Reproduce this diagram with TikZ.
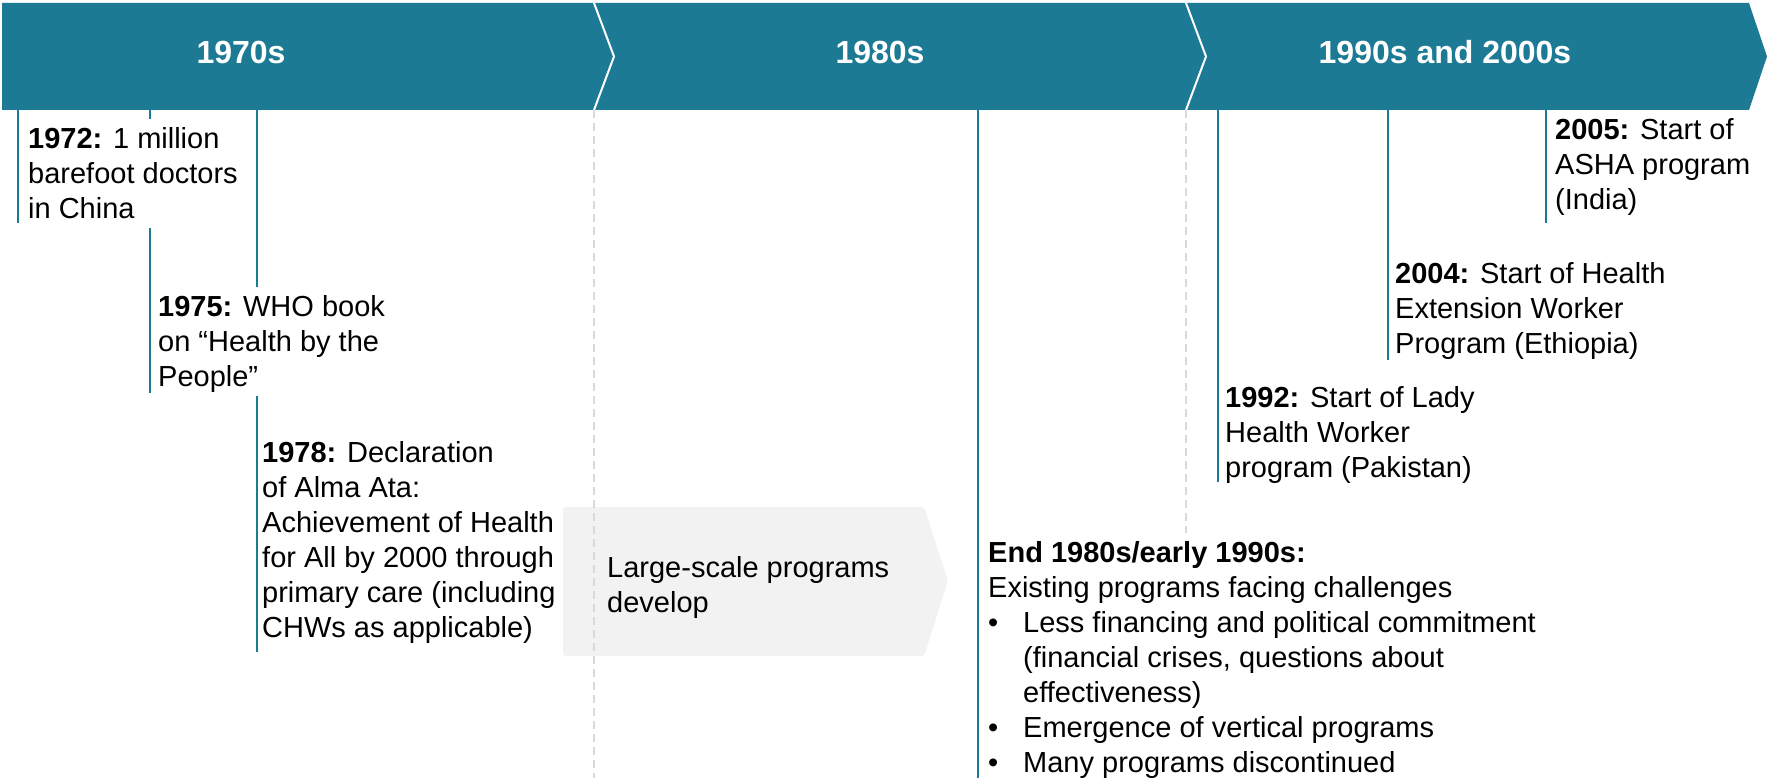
\documentclass[tikz,border=0pt]{standalone}
\usepackage{fontspec}
\setmainfont{Liberation Sans}
\definecolor{bandteal}{RGB}{29,122,149}
\definecolor{guidegray}{RGB}{217,217,217}
\definecolor{phasegray}{RGB}{242,242,242}
% strut giving every text block the same first-line height and last-line depth
\newcommand\evstrut{\rule[-6pt]{0pt}{31pt}}
\tikzset{
  evline/.style={draw=bandteal, line width=2pt},
  eratick/.style={draw=white, line width=2pt, line join=miter},
  guide/.style={draw=guidegray, line width=2pt, dash pattern=on 8pt off 5pt},
  evtext/.style={anchor=north west, align=left, fill=white, inner xsep=3pt, inner ysep=4pt,
                 font=\fontsize{29}{35}\selectfont},
  phasetext/.style={anchor=north west, align=left, inner xsep=3pt, inner ysep=4pt,
                 font=\fontsize{29}{35}\selectfont},
  era/.style={anchor=base, text=white, inner sep=0pt, font=\fontsize{32}{38}\selectfont\bfseries},
}
\begin{document}
\begin{tikzpicture}[x=1pt, y=-1pt]
\useasboundingbox (0,0) rectangle (1767,778);

% decade band
\fill[bandteal] (2,3) -- (1749,3) -- (1767,56.5) -- (1749,110) -- (2,110) -- cycle;
\draw[eratick] (594,3) -- (614,56.5) -- (594,110);
\draw[eratick] (1186,3) -- (1206,56.5) -- (1186,110);
\coordinate (band) at (0,110);

\node[era] (d70) at (241,64) {1970s};
\node[era] (d80) at (880,64) {1980s};
\node[era] (d90) at (1445,64) {1990s and 2000s};

% phase arrow in the 1980s
\fill[phasegray, rounded corners=3pt] (563,507) -- (924,507) -- (948,581) -- (924,656) -- (563,656) -- cycle;

% decade guides
\coordinate (g1) at (594,778);
\coordinate (g2) at (1186,778);
\draw[guide] (g1 |- band) -- (g1);
\draw[guide] (g2 |- band) -- (g2);

% event stems
\coordinate (s72) at (18,223);
\coordinate (s75) at (150,393);
\coordinate (s78) at (257,652);
\coordinate (s89) at (978,778);
\coordinate (s92) at (1218,482);
\coordinate (s04) at (1388,360);
\coordinate (s05) at (1546,223);
\foreach \s in {s72,s75,s78,s89,s92,s04,s05}
  \draw[evline] (\s |- band) -- (\s);

% event texts
\node[evtext] (e72) at (25,119) {\evstrut\textbf{1972:} 1 million\\barefoot doctors\\in China\evstrut};
\node[evtext] (e75) at (155,287) {\evstrut\textbf{1975:} WHO book\\on “Health by the\\People”\evstrut};
\node[evtext] (e78) at (259,433) {\evstrut\textbf{1978:} Declaration\\of Alma Ata:\\Achievement of Health\\for All by 2000 through\\primary care (including\\CHWs as applicable)\evstrut};
\node[evtext] (e89) at (985,533) {\evstrut\textbf{End 1980s/early 1990s:}\\Existing programs facing challenges\\
  \makebox[35pt][l]{•}Less financing and political commitment\\
  \hspace*{35pt}(financial crises, questions about\\
  \hspace*{35pt}effectiveness)\\
  \makebox[35pt][l]{•}Emergence of vertical programs\\
  \makebox[35pt][l]{•}Many programs discontinued\evstrut};
\node[evtext] (e92) at (1222,378) {\evstrut\textbf{1992:} Start of Lady\\Health Worker\\program (Pakistan)\evstrut};
\node[evtext] (e04) at (1392,254) {\evstrut\textbf{2004:} Start of Health\\Extension Worker\\Program (Ethiopia)\evstrut};
\node[evtext] (e05) at (1552,110) {\evstrut\textbf{2005:} Start of\\ASHA program\\(India)\evstrut};

\node[phasetext] (grow) at (604,548) {\evstrut Large-scale programs\\develop\evstrut};
\end{tikzpicture}
\end{document}
